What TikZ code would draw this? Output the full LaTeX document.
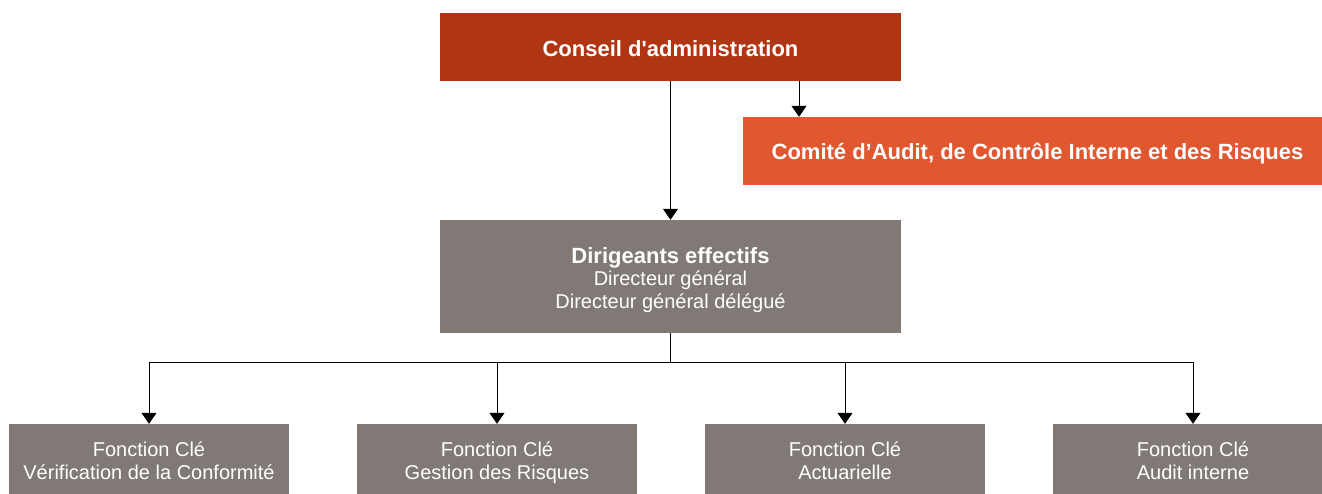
\documentclass[tikz,border=0pt]{standalone}
\usepackage{fontspec}
\setmainfont{Liberation Sans}
\usetikzlibrary{arrows.meta}
\definecolor{cdark}{HTML}{B03512}
\definecolor{corange}{HTML}{E05730}
\definecolor{cgray}{HTML}{817976}
\begin{document}
\begin{tikzpicture}[x=1pt,y=-1pt,
  box/.style={rectangle, inner sep=0pt},
  lbl/.style={text=white, align=center, inner sep=0pt},
  boldtxt/.style={lbl, yshift=-2.5pt, font=\fontsize{22}{26}\selectfont\bfseries},
  regtxt/.style={lbl, yshift=-4.5pt, font=\fontsize{20}{23}\selectfont},
  conn/.style={draw=black, line width=1pt},
  arr/.style={conn, -{Triangle[width=15pt,length=11pt]}}]
\useasboundingbox (0,0) rectangle (1322,494);
\clip (0,0) rectangle (1322,494);
\node[box, fill=cdark, minimum width=461pt, minimum height=68pt,
  label={[boldtxt, yshift=1.3pt]center:Conseil d\textquotesingle administration}] (ca) at (670.5,47) {};
\node[box, fill=corange, minimum width=589pt, minimum height=68pt,
  label={[boldtxt]center:{Comité d’Audit, de Contrôle Interne et des Risques}}] (cacir) at (1037.5,151) {};
\node[box, fill=cgray, minimum width=461pt, minimum height=113pt,
  label={[regtxt, font=\fontsize{20}{22.5}\selectfont]center:{{\fontsize{22}{22.5}\selectfont\bfseries Dirigeants effectifs}\strut\\Directeur général\strut\\Directeur général délégué\strut}}] (de) at (670.5,276.5) {};
\node[box, fill=cgray, minimum width=280pt, minimum height=70pt,
  label={[regtxt]center:{Fonction Clé\strut\\Vérification de la Conformité\strut}}] (f1) at (149,459) {};
\node[box, fill=cgray, minimum width=280pt, minimum height=70pt,
  label={[regtxt]center:{Fonction Clé\strut\\Gestion des Risques\strut}}] (f2) at (497,459) {};
\node[box, fill=cgray, minimum width=280pt, minimum height=70pt,
  label={[regtxt]center:{Fonction Clé\strut\\Actuarielle\strut}}] (f3) at (845,459) {};
\node[box, fill=cgray, minimum width=280pt, minimum height=70pt,
  label={[regtxt]center:{Fonction Clé\strut\\Audit interne\strut}}] (f4) at (1193,459) {};
\draw[arr] (ca.south) -- (de.north);
\draw[arr] ([xshift=128.5pt]ca.south) -- ([xshift=128.5pt]ca.south |- cacir.north);
\coordinate (bus) at (670.5,362);
\draw[conn] (de.south) -- (bus);
\draw[conn] (f1.north |- bus) -- (f4.north |- bus);
\foreach \i in {1,...,4}{\draw[arr] (f\i.north |- bus) -- (f\i.north);}
\end{tikzpicture}
\end{document}
